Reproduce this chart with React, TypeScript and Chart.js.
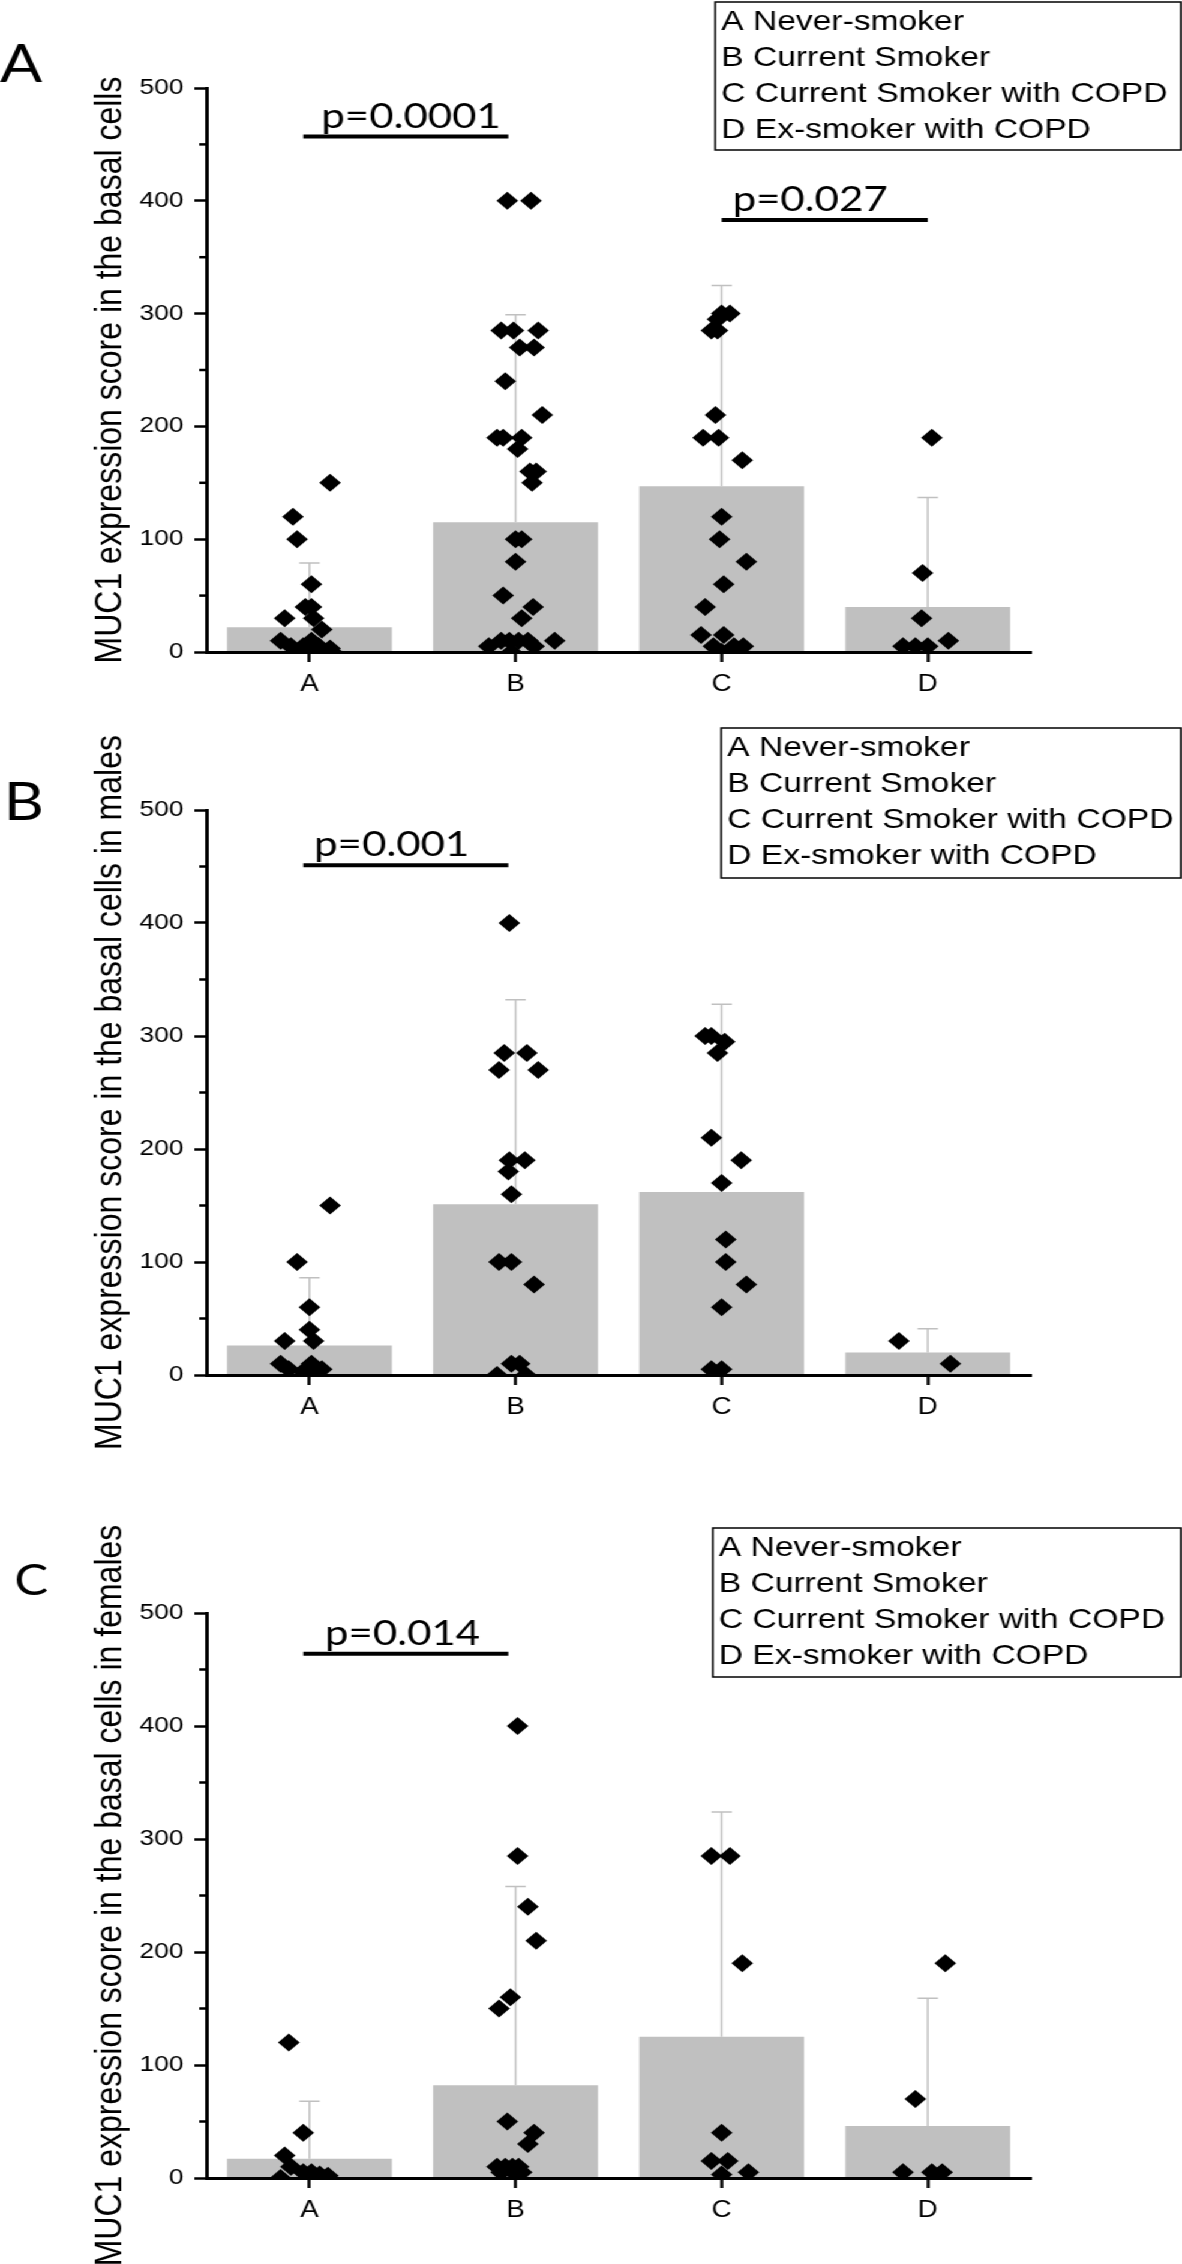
import React, { useEffect, useRef } from 'react';
import { Chart, registerables } from 'chart.js';

Chart.register(...registerables);

// ---------------- shared data ----------------
const categories = ['A', 'B', 'C', 'D'];
const yTickValues = [0, 100, 200, 300, 400, 500];
const yMinorValues = [50, 150, 250, 350, 450];
const legendLines = ['A Never-smoker', 'B Current Smoker', 'C Current Smoker with COPD', 'D Ex-smoker with COPD'];

// ---------------- Panel A: all subjects ----------------
const allTitle = 'MUC1 expression score in the basal cells';
const allMeans = [22, 115, 147, 40];
const allSD = [57, 184, 178, 97];
const allA = [150, 120, 100, 60, 40, 40, 30, 30, 20, 10, 10, 5, 5, 5, 3, 0, 0, 0, 0, 0];
const allAJitter = [0.10, -0.08, -0.06, 0.01, -0.02, 0.01, -0.12, 0.02, 0.06, -0.14, 0.01, -0.09, -0.03, 0.045, 0.10, -0.06, 0.0, 0.04, 0.07, 0.11];
const allB = [400, 400, 285, 285, 285, 270, 270, 240, 210, 190, 190, 190, 180, 160, 160, 150, 100, 100, 80, 50, 40, 30, 10, 10, 10, 10, 10, 5, 5, 0];
const allBJitter = [-0.04, 0.075, -0.07, -0.01, 0.11, 0.02, 0.09, -0.05, 0.13, -0.09, -0.06, 0.03, 0.01, 0.07, 0.10, 0.08, 0.0, 0.03, 0.0, -0.06, 0.085, 0.03, 0.19, -0.07, -0.03, 0.015, 0.06, -0.13, 0.09, -0.02];
const allC = [300, 300, 295, 285, 285, 210, 190, 190, 170, 120, 100, 80, 60, 40, 15, 15, 5, 5, 5, 0];
const allCJitter = [0.04, 0.0, -0.02, -0.05, -0.02, -0.03, -0.09, -0.015, 0.10, 0.0, -0.01, 0.12, 0.01, -0.08, -0.10, 0.01, -0.04, 0.06, 0.105, 0.0];
const allD = [190, 70, 30, 10, 5, 5, 5];
const allDJitter = [0.02, -0.025, -0.03, 0.10, -0.12, -0.06, 0.0];
const allPText = ['p=0.0001', 'p=0.027'];
const allPLevel = [457, 383];
const allPFrom = [-0.03, 2.0];
const allPTo = [0.965, 3.0];

// ---------------- Panel B: males ----------------
const maleTitle = 'MUC1 expression score in the basal cells in males';
const maleMeans = [26, 151, 162, 20];
const maleSD = [60, 181, 166, 21];
const maleA = [150, 100, 60, 40, 30, 30, 10, 10, 5, 3, 5, 0];
const maleAJitter = [0.10, -0.06, 0.0, 0.0, -0.12, 0.02, -0.14, 0.01, -0.10, -0.03, 0.06, 0.03];
const maleB = [400, 285, 285, 270, 270, 190, 190, 180, 160, 100, 100, 80, 10, 10, 0, 0];
const maleBJitter = [-0.03, -0.055, 0.055, -0.08, 0.11, -0.03, 0.045, -0.035, -0.02, -0.08, -0.02, 0.09, -0.02, 0.02, -0.09, 0.05];
const maleC = [300, 300, 295, 285, 210, 190, 170, 120, 100, 80, 60, 5, 5];
const maleCJitter = [-0.08, -0.05, 0.015, -0.02, -0.05, 0.095, 0.0, 0.02, 0.02, 0.12, 0.0, -0.05, 0.0];
const maleD = [30, 10];
const maleDJitter = [-0.14, 0.11];
const malePText = ['p=0.001'];
const malePLevel = [451];
const malePFrom = [-0.03];
const malePTo = [0.965];

// ---------------- Panel C: females ----------------
const femaleTitle = 'MUC1 expression score in the basal cells in females';
const femaleMeans = [17, 82, 125, 46];
const femaleSD = [51, 176, 199, 113];
const femaleA = [120, 40, 20, 10, 5, 5, 3, 2, 0, 0];
const femaleAJitter = [-0.10, -0.03, -0.12, -0.09, -0.03, 0.01, 0.05, 0.09, -0.14, 0.07];
const femaleB = [400, 285, 240, 210, 160, 150, 50, 40, 30, 10, 10, 10, 10, 5, 5, 5];
const femaleBJitter = [0.01, 0.01, 0.06, 0.10, -0.025, -0.08, -0.04, 0.09, 0.06, -0.09, -0.05, -0.015, 0.015, -0.07, -0.01, 0.03];
const femaleC = [285, 285, 190, 40, 15, 15, 5, 3];
const femaleCJitter = [-0.05, 0.04, 0.10, 0.0, -0.05, 0.03, 0.13, 0.0];
const femaleD = [190, 70, 5, 5, 5];
const femaleDJitter = [0.085, -0.06, -0.12, 0.02, 0.07];
const femalePText = ['p=0.014'];
const femalePLevel = [464];
const femalePFrom = [-0.03];
const femalePTo = [0.965];

// ---------------- layout / style ----------------
const STRETCH = 1.2;
const W = 985;
const FONT = "'Liberation Sans', Arial, Helvetica, sans-serif";
const ANNOT_FONT = "Lato, 'Open Sans', sans-serif";
const PLOT_LEFT = 172;
const PLOT_RIGHT = 859;

type PanelCfg = {
  letter: string; title: string; means: number[]; sd: number[];
  groups: number[][]; jitter: number[][];
  pText: string[]; pLevel: number[]; pFrom: number[]; pTo: number[]; pDx: number[];
  top: number; height: number; padTop: number; padBottom: number;
  legend: { x: number; y: number; w: number; h: number };
  letterX: number; letterBase: number; letterSize: number;
};

const panels: PanelCfg[] = [
  {
    letter: 'A', title: allTitle, means: allMeans, sd: allSD,
    groups: [allA, allB, allC, allD], jitter: [allAJitter, allBJitter, allCJitter, allDJitter],
    pText: allPText, pLevel: allPLevel, pFrom: allPFrom, pTo: allPTo, pDx: [15, 9],
    top: 0, height: 720, padTop: 88, padBottom: 8,
    legend: { x: 596, y: 2, w: 388, h: 148 },
    letterX: 0, letterBase: 82, letterSize: 52,
  },
  {
    letter: 'B', title: maleTitle, means: maleMeans, sd: maleSD,
    groups: [maleA, maleB, maleC, maleD], jitter: [maleAJitter, maleBJitter, maleCJitter, maleDJitter],
    pText: malePText, pLevel: malePLevel, pFrom: malePFrom, pTo: malePTo, pDx: [9],
    top: 720, height: 770, padTop: 90, padBottom: 55,
    legend: { x: 601, y: 8, w: 383, h: 150 },
    letterX: 3, letterBase: 100, letterSize: 52,
  },
  {
    letter: 'C', title: femaleTitle, means: femaleMeans, sd: femaleSD,
    groups: [femaleA, femaleB, femaleC, femaleD], jitter: [femaleAJitter, femaleBJitter, femaleCJitter, femaleDJitter],
    pText: femalePText, pLevel: femalePLevel, pFrom: femalePFrom, pTo: femalePTo, pDx: [18],
    top: 1440, height: 824, padTop: 173, padBottom: 26,
    legend: { x: 594, y: 88, w: 390, h: 149 },
    letterX: 12, letterBase: 155, letterSize: 42,
  },
];

function decorPlugin(cfg: PanelCfg) {
  return {
    id: 'decor' + cfg.letter,
    afterDatasetDraw(chart: any, args: any) {
      if (args.index !== 0) return;
      const ctx = chart.ctx;
      const y = chart.scales.y;
      const meta = chart.getDatasetMeta(0);
      ctx.save();
      ctx.strokeStyle = '#c0c0c0';
      ctx.lineWidth = 1.5;
      meta.data.forEach((el: any, i: number) => {
        const top = y.getPixelForValue(cfg.means[i] + cfg.sd[i]);
        ctx.beginPath();
        ctx.moveTo(el.x, el.y);
        ctx.lineTo(el.x, top);
        ctx.moveTo(el.x - 8.5, top);
        ctx.lineTo(el.x + 8.5, top);
        ctx.stroke();
      });
      ctx.restore();
    },
    afterDraw(chart: any) {
      const { ctx, chartArea } = chart;
      const x = chart.scales.x;
      const y = chart.scales.y;
      ctx.save();
      // minor ticks
      ctx.strokeStyle = '#000';
      ctx.lineWidth = 2.5;
      yMinorValues.forEach((v) => {
        const py = y.getPixelForValue(v);
        ctx.beginPath();
        ctx.moveTo(chartArea.left - 6, py);
        ctx.lineTo(chartArea.left, py);
        ctx.stroke();
      });
      // significance annotations
      cfg.pText.forEach((t, k) => {
        const py = y.getPixelForValue(cfg.pLevel[k]);
        const x1 = x.getPixelForValue(cfg.pFrom[k]);
        const x2 = x.getPixelForValue(cfg.pTo[k]);
        ctx.lineWidth = 4;
        ctx.strokeStyle = '#000';
        ctx.beginPath();
        ctx.moveTo(x1, py);
        ctx.lineTo(x2, py);
        ctx.stroke();
        ctx.fillStyle = '#000';
        ctx.font = `35px ${ANNOT_FONT}`;
        ctx.textAlign = 'left';
        ctx.textBaseline = 'alphabetic';
        ctx.fillText(t, x1 + cfg.pDx[k], py - 9);
      });
      // legend box
      const L = cfg.legend;
      ctx.lineWidth = 1.5;
      ctx.strokeStyle = '#000';
      ctx.strokeRect(L.x, L.y, L.w, L.h);
      ctx.fillStyle = '#000';
      ctx.font = `28px ${FONT}`;
      ctx.textAlign = 'left';
      ctx.textBaseline = 'middle';
      legendLines.forEach((line, i) => {
        ctx.fillText(line, L.x + 5, L.y + 20 + 36 * i);
      });
      // panel letter
      ctx.font = `${cfg.letterSize}px ${ANNOT_FONT}`;
      ctx.textBaseline = 'alphabetic';
      ctx.fillText(cfg.letter, cfg.letterX, cfg.letterBase);
      ctx.restore();
    },
  };
}

function Panel({ cfg }: { cfg: PanelCfg }) {
  const ref = useRef<HTMLCanvasElement>(null);
  useEffect(() => {
    const canvas = ref.current;
    if (!canvas) return;
    const points: { x: number; y: number }[] = [];
    cfg.groups.forEach((vals, gi) => {
      vals.forEach((v, i) => points.push({ x: gi + cfg.jitter[gi][i], y: v }));
    });
    const chart = new Chart(canvas, {
      type: 'bar',
      data: {
        datasets: [
          {
            type: 'bar',
            data: cfg.means.map((m, i) => ({ x: i, y: m })),
            backgroundColor: '#c0c0c0',
            borderWidth: 0,
            barPercentage: 0.8,
            categoryPercentage: 1,
            order: 2,
          } as any,
          {
            type: 'scatter',
            data: points,
            pointStyle: 'rectRot',
            pointRadius: 9,
            pointHoverRadius: 9,
            pointBackgroundColor: '#000',
            pointBorderColor: '#000',
            pointBorderWidth: 0,
            showLine: false,
            order: 1,
            clip: { left: false, right: false, top: false, bottom: 0 },
          } as any,
        ],
      },
      options: {
        responsive: false,
        animation: false,
        devicePixelRatio: 1,
        events: [],
        layout: { padding: { top: cfg.padTop, bottom: cfg.padBottom, left: 0, right: W - PLOT_RIGHT } },
        plugins: { legend: { display: false }, tooltip: { enabled: false }, title: { display: false } },
        scales: {
          x: {
            type: 'linear',
            min: -0.5,
            max: 3.5,
            offset: false,
            afterBuildTicks: (s: any) => { s.ticks = categories.map((_, i) => ({ value: i })); },
            afterFit: (s: any) => { s.height = 60; },
            ticks: {
              callback: (v: any) => categories[Math.round(Number(v))] ?? '',
              font: { family: FONT, size: 23 },
              color: '#000',
              padding: 9,
              autoSkip: false,
              maxRotation: 0,
              minRotation: 0,
            },
            grid: { display: true, drawOnChartArea: false, drawTicks: true, tickLength: 10, tickWidth: 2.5, tickColor: '#000', offset: false },
            border: { display: true, color: '#000', width: 3, z: 1 },
          },
          y: {
            type: 'linear',
            min: 0,
            max: 500,
            afterBuildTicks: (s: any) => { s.ticks = yTickValues.map((v) => ({ value: v })); },
            afterFit: (s: any) => { s.width = PLOT_LEFT; },
            ticks: { font: { family: FONT, size: 22 }, color: '#000', padding: 9 },
            grid: { display: true, drawOnChartArea: false, drawTicks: true, tickLength: 10, tickWidth: 2.5, tickColor: '#000' },
            border: { display: true, color: '#000', width: 3, z: 1 },
            title: {
              display: true,
              text: cfg.title,
              font: { family: FONT, size: 32 },
              color: '#000',
              padding: { top: 73, bottom: 0 },
            },
          },
        },
      } as any,
      plugins: [decorPlugin(cfg)],
    });
    return () => chart.destroy();
  }, [cfg]);
  return (
    <canvas
      ref={ref}
      width={W}
      height={cfg.height}
      style={{ position: 'absolute', left: 0, top: cfg.top, width: W, height: cfg.height, display: 'block' }}
    />
  );
}

export default function App() {
  return (
    <div
      style={{
        position: 'absolute',
        left: 0,
        top: 0,
        width: W,
        height: 2264,
        background: '#fff',
        transform: `scaleX(${STRETCH})`,
        transformOrigin: '0 0',
        overflow: 'hidden',
      }}
    >
      {panels.map((p) => (
        <Panel key={p.letter} cfg={p} />
      ))}
    </div>
  );
}
